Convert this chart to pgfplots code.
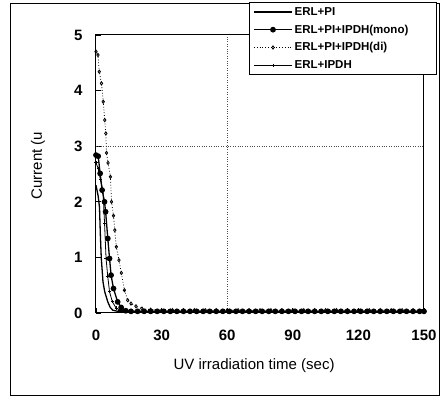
\documentclass[border=0pt]{standalone}
\usepackage{pgfplots}
\pgfplotsset{compat=1.18}
\usepackage{fontspec}
\setmainfont{Liberation Sans}
\begin{document}
\begin{tikzpicture}
\useasboundingbox (-96pt,-94pt) rectangle (344pt,313pt);
\draw[line width=0.7pt] (-86pt,-82pt) rectangle (343pt,310pt);
\begin{axis}[
  scale only axis, width=328pt, height=278pt,
  at={(0pt,0pt)}, anchor=south west,
  xmin=0, xmax=150, ymin=0, ymax=5,
  xtick={0,30,...,150}, ytick={0,1,2,3,4,5},
  tick align=inside, xtick pos=bottom, ytick pos=left,
  major tick length=5pt,
  axis line style={line width=1pt},
  tick style={black, line width=0.6pt},
  /pgf/number format/assume math mode=true,
  ticklabel style={font=\bfseries\fontsize{15}{17}\selectfont},
  yticklabel style={xshift=-10pt},
  xticklabel style={yshift=-13pt},
  extra x ticks={60}, extra x tick labels={},
  extra y ticks={3}, extra y tick labels={},
  extra tick style={grid=major, major grid style={dotted, line width=0.8pt, black!70}, tick style={draw=none}},
  xlabel={UV irradiation time (sec)},
  ylabel={Current (u},
  label style={font=\fontsize{15}{18}\selectfont},
  xlabel style={at={(axis description cs:0.482,-0.19)}, anchor=center},
  ylabel style={at={(axis description cs:-0.177,0.53)}, anchor=center, rotate=0},
  legend style={at={(1,1)}, anchor=north east, xshift=13pt, yshift=33pt,
    draw=black, line width=0.7pt, fill=white,
    font=\bfseries\fontsize{11.5}{13}\selectfont,
    inner xsep=4pt, inner ysep=3pt, row sep=4pt,
    text width=136pt},
  legend cell align=left,
  legend image code/.code={\draw[mark repeat=2, mark phase=2, #1] plot coordinates {(0pt,0pt) (19pt,0pt) (38pt,0pt)};},
]
% ERL+PI
\addplot[black, line width=1.3pt, no marks] coordinates {
(0,2.3) (1,2.1) (1.6,1.9) (2,1.4) (2.4,1.0) (3.2,0.56) (4,0.38) (5.4,0.2) (6.5,0.1) (7.7,0.05) (10,0.03) (20,0.02) (40,0.02) (60,0.02) (80,0.02) (100,0.02) (120,0.02) (150,0.02)};
\addlegendentry{ERL+PI}
% ERL+PI+IPDH(mono)
\addplot[black, line width=1.3pt, mark=*, mark size=2.2pt] coordinates {
(0,2.84) (1,2.82) (1.9,2.51) (2.8,2.21) (3.9,2.0) (4.4,1.82) (5.4,1.34) (6.2,0.98) (6.9,0.68) (8,0.44) (9.9,0.2) (11.5,0.1) (13.6,0.04) (16,0.03) (19,0.03) (22,0.03) (25,0.03) (28,0.03) (31,0.03) (34,0.03) (37,0.03) (40,0.03) (43,0.03) (46,0.03) (49,0.03) (52,0.03) (55,0.03) (58,0.03) (61,0.03) (64,0.03) (67,0.03) (70,0.03) (73,0.03) (76,0.03) (79,0.03) (82,0.03) (85,0.03) (88,0.03) (91,0.03) (94,0.03) (97,0.03) (100,0.03) (103,0.03) (106,0.03) (109,0.03) (112,0.03) (115,0.03) (118,0.03) (121,0.03) (124,0.03) (127,0.03) (130,0.03) (133,0.03) (136,0.03) (139,0.03) (142,0.03) (145,0.03) (148,0.03) (150,0.03)};
\addlegendentry{ERL+PI+IPDH(mono)}
% ERL+PI+IPDH(di)
\addplot[black, line width=0.8pt, dotted, mark=diamond, mark size=1.6pt, mark options={solid}] coordinates {
(0,4.7) (0.9,4.64) (1.5,4.34) (2.5,4.13) (3.3,3.8) (4,3.47) (4.5,3.23) (4.8,2.88) (5.5,2.7) (6.6,2.45) (7.1,2.0) (8,1.75) (8.6,1.49) (9.3,1.19) (10.5,0.95) (11.6,0.72) (13,0.41) (14.5,0.23) (16,0.17) (18.3,0.12) (21,0.08) (25,0.06) (30,0.05) (35,0.05) (40,0.05) (45,0.05) (50,0.05) (55,0.05) (60,0.05) (65,0.05) (70,0.05) (75,0.05) (80,0.05) (85,0.05) (90,0.05) (95,0.05) (100,0.05) (105,0.05) (110,0.05) (115,0.05) (120,0.05) (125,0.05) (130,0.05) (135,0.05) (140,0.05) (145,0.05) (150,0.05)};
\addlegendentry{ERL+PI+IPDH(di)}
% ERL+IPDH
\addplot[black, line width=0.8pt, mark=+, mark size=1.6pt] coordinates {
(0,2.7) (1,2.6) (2,2.4) (3.2,2.2) (3.9,1.62) (4.6,0.98) (5.4,0.65) (6.2,0.38) (7.5,0.2) (9.2,0.09) (11,0.05) (13,0.04) (15,0.03) (20,0.03) (25,0.03) (30,0.03) (35,0.03) (40,0.03) (45,0.03) (50,0.03) (55,0.03) (60,0.03) (65,0.03) (70,0.04) (75,0.03) (80,0.03) (85,0.03) (90,0.03) (95,0.03) (100,0.03) (105,0.03) (110,0.03) (115,0.03) (120,0.03) (125,0.03) (130,0.03) (135,0.03) (140,0.03) (145,0.03) (150,0.03)};
\addlegendentry{ERL+IPDH}
\end{axis}
\end{tikzpicture}
\end{document}
